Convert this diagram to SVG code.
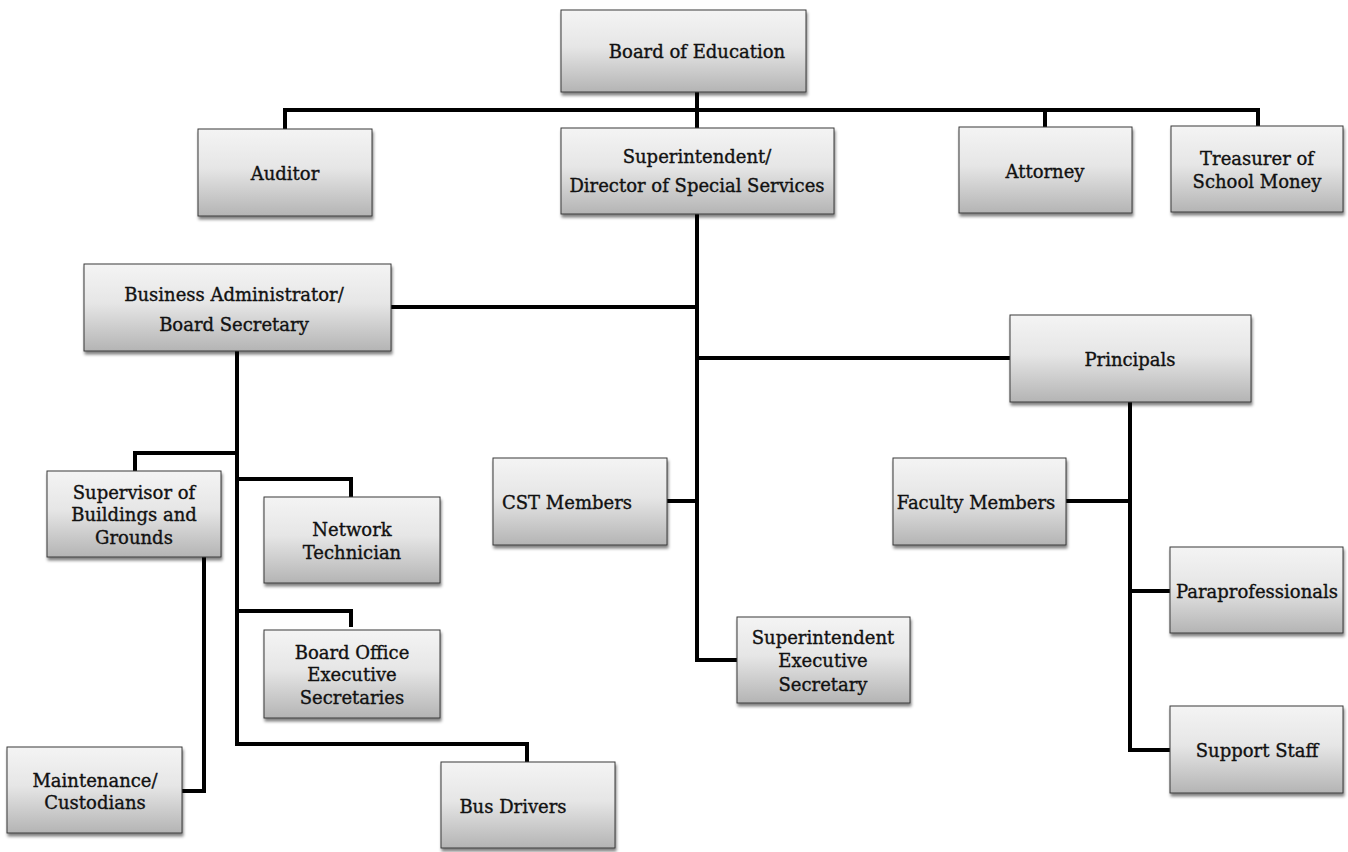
<svg xmlns="http://www.w3.org/2000/svg" width="1348" height="852" viewBox="0 0 1348 852">
<defs>
<linearGradient id="g" x1="0" y1="0" x2="0" y2="1">
<stop offset="0" stop-color="#f4f4f4"/>
<stop offset="0.45" stop-color="#e6e6e6"/>
<stop offset="1" stop-color="#b4b4b4"/>
</linearGradient>
<filter id="sh" x="-5%" y="-5%" width="115%" height="125%">
<feGaussianBlur in="SourceAlpha" stdDeviation="1.5"/>
<feOffset dx="1" dy="3" result="b"/>
<feComponentTransfer><feFuncA type="linear" slope="0.5"/></feComponentTransfer>
<feMerge><feMergeNode/><feMergeNode in="SourceGraphic"/></feMerge>
</filter>
</defs>
<style>
.box{fill:url(#g);stroke:#3a3a3a;stroke-width:1;filter:url(#sh)}
.t{font-family:"DejaVu Serif","Liberation Serif",serif;font-size:18px;fill:#111;stroke:#111;stroke-width:0.35;text-anchor:middle}
.c{fill:none;stroke:#000;stroke-width:4;stroke-linejoin:miter}
</style>
<rect width="1348" height="852" fill="#fff"/>
<g id="connectors">
<path class="c" d="M697 92V128"/>
<path class="c" d="M285 129V110H697"/>
<path class="c" d="M697 110H1258V126"/>
<path class="c" d="M1045 110V127"/>
<path class="c" d="M697 214V660H737"/>
<path class="c" d="M391 307H697"/>
<path class="c" d="M697 358H1010"/>
<path class="c" d="M667 501H697"/>
<path class="c" d="M237 351V744H527V762"/>
<path class="c" d="M135 471V453H237"/>
<path class="c" d="M237 479H351V497"/>
<path class="c" d="M237 611H351V627"/>
<path class="c" d="M204 557V791H182"/>
<path class="c" d="M1130 402V750H1170"/>
<path class="c" d="M1066 501H1130"/>
<path class="c" d="M1130 591H1170"/>
</g>
<g id="board"><rect class="box" x="561" y="10" width="245" height="82"/><text class="t" x="697" y="58">Board of Education</text></g>
<g id="auditor"><rect class="box" x="198" y="129" width="174" height="87"/><text class="t" x="285" y="180">Auditor</text></g>
<g id="superintendent"><rect class="box" x="561" y="128" width="273" height="86"/><text class="t" x="697" y="163">Superintendent/</text><text class="t" x="697" y="192">Director of Special Services</text></g>
<g id="attorney"><rect class="box" x="959" y="127" width="173" height="86"/><text class="t" x="1045" y="178">Attorney</text></g>
<g id="treasurer"><rect class="box" x="1171" y="126" width="172" height="86"/><text class="t" x="1257" y="165">Treasurer of</text><text class="t" x="1257" y="188">School Money</text></g>
<g id="business-admin"><rect class="box" x="84" y="264" width="307" height="87"/><text class="t" x="234" y="301">Business Administrator/</text><text class="t" x="234" y="331">Board Secretary</text></g>
<g id="principals"><rect class="box" x="1010" y="315" width="241" height="87"/><text class="t" x="1130" y="366">Principals</text></g>
<g id="cst"><rect class="box" x="493" y="458" width="174" height="87"/><text class="t" x="567" y="509">CST Members</text></g>
<g id="faculty"><rect class="box" x="893" y="458" width="173" height="87"/><text class="t" x="976" y="509">Faculty Members</text></g>
<g id="supervisor"><rect class="box" x="47" y="471" width="174" height="86"/><text class="t" x="134" y="499">Supervisor of</text><text class="t" x="134" y="521">Buildings and</text><text class="t" x="134" y="544">Grounds</text></g>
<g id="network"><rect class="box" x="264" y="497" width="176" height="86"/><text class="t" x="352" y="536">Network</text><text class="t" x="352" y="559">Technician</text></g>
<g id="paraprofessionals"><rect class="box" x="1170" y="547" width="173" height="86"/><text class="t" x="1257" y="598">Paraprofessionals</text></g>
<g id="super-exec-sec"><rect class="box" x="737" y="617" width="173" height="86"/><text class="t" x="823" y="644">Superintendent</text><text class="t" x="823" y="667">Executive</text><text class="t" x="823" y="691">Secretary</text></g>
<g id="board-office-sec"><rect class="box" x="264" y="630" width="176" height="88"/><text class="t" x="352" y="659">Board Office</text><text class="t" x="352" y="681">Executive</text><text class="t" x="352" y="704">Secretaries</text></g>
<g id="support-staff"><rect class="box" x="1170" y="706" width="173" height="87"/><text class="t" x="1257" y="757">Support Staff</text></g>
<g id="maintenance"><rect class="box" x="7" y="747" width="175" height="86"/><text class="t" x="95" y="787">Maintenance/</text><text class="t" x="95" y="809">Custodians</text></g>
<g id="bus-drivers"><rect class="box" x="441" y="762" width="174" height="86"/><text class="t" x="513" y="813">Bus Drivers</text></g>
</svg>
